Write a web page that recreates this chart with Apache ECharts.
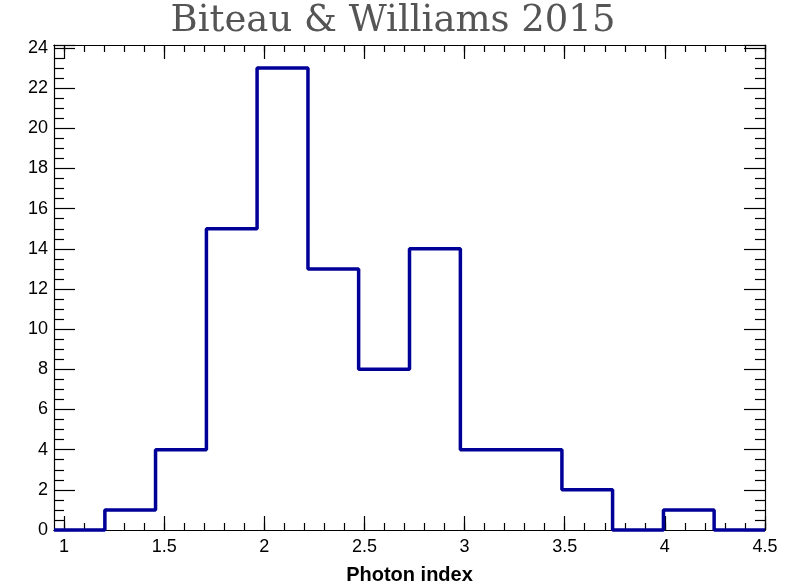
<!DOCTYPE html>
<html>
<head>
<meta charset="utf-8">
<script src="https://cdn.jsdelivr.net/npm/echarts@6/dist/echarts.min.js"></script>
<style>
  html, body { margin: 0; padding: 0; background: #fff; }
  #chart { width: 786px; height: 583px; }
</style>
</head>
<body>
<div id="chart"></div>
<script>
// Photon index histogram: 14 bins from 0.95 to 4.5
const binEdges = [0.95, 1.204, 1.457, 1.711, 1.964, 2.218, 2.471, 2.725, 2.979, 3.232, 3.486, 3.739, 3.993, 4.246, 4.5];
const counts = [0, 1, 4, 15, 23, 13, 8, 14, 4, 4, 2, 0, 1, 0];
const xMajorTicks = [1, 1.5, 2, 2.5, 3, 3.5, 4, 4.5];
const yTickInterval = 2;
const titleText = 'Biteau & Williams 2015';
const xTitle = 'Photon index';

// minor x ticks every 0.1 between the axis limits
const xMinorTicks = [];
for (let i = 10; i <= 45; i++) xMinorTicks.push(+(i / 10).toFixed(1));

// step outline: each left edge carries its bin count, closed at the last edge
const stepData = counts.map((c, i) => [binEdges[i], c]);
stepData.push([binEdges[binEdges.length - 1], counts[counts.length - 1]]);

const xMin = binEdges[0], xMax = binEdges[binEdges.length - 1];
const yMax = 24.15;
const fontSans = '"Liberation Sans", Arial, sans-serif';
const frame = { show: true, onZero: false, lineStyle: { color: '#000', width: 1.2 } };

function xAxisDef(pos, major, labels) {
  return {
    type: 'value', position: pos, min: xMin, max: xMax,
    axisLine: frame,
    splitLine: { show: false },
    axisTick: {
      show: true, inside: true, length: major ? 14 : 7,
      customValues: major ? xMajorTicks : xMinorTicks,
      lineStyle: { color: '#000', width: 1.2 }
    },
    axisLabel: labels ? {
      show: true, customValues: xMajorTicks, margin: 8,
      color: '#000', fontSize: 18, fontFamily: fontSans,
      formatter: v => String(v)
    } : { show: false },
    name: labels ? xTitle : '',
    nameLocation: 'middle', nameGap: 35,
    nameTextStyle: { color: '#000', fontSize: 20, fontWeight: 'bold', fontFamily: fontSans }
  };
}

function yAxisDef(pos, labels) {
  return {
    type: 'value', position: pos, min: 0, max: yMax, interval: yTickInterval,
    axisLine: frame,
    splitLine: { show: false },
    axisTick: { show: true, inside: true, length: 21, lineStyle: { color: '#000', width: 1.2 } },
    minorTick: { show: true, splitNumber: 4, length: 10, lineStyle: { color: '#000', width: 1.2 } },
    minorSplitLine: { show: false },
    axisLabel: labels ? {
      show: true, margin: 6, color: '#000', fontSize: 18, fontFamily: fontSans
    } : { show: false }
  };
}

const chart = echarts.init(document.getElementById('chart'), null, { renderer: 'canvas' });
chart.setOption({
  backgroundColor: '#fff',
  animation: false,
  title: {
    text: titleText, left: 'center', top: -2,
    textStyle: { color: '#555', fontSize: 37, fontWeight: 'normal', fontFamily: '"DejaVu Serif", serif' }
  },
  grid: { left: 54, right: 21, top: 45, bottom: 53, containLabel: false, outerBoundsMode: 'none' },
  xAxis: [
    xAxisDef('bottom', true, true),
    xAxisDef('bottom', false, false),
    xAxisDef('top', true, false),
    xAxisDef('top', false, false)
  ],
  yAxis: [
    yAxisDef('left', true),
    yAxisDef('right', false)
  ],
  series: [{
    type: 'line',
    xAxisIndex: 0, yAxisIndex: 0,
    data: stepData,
    step: 'end',
    symbol: 'none',
    clip: false,
    lineStyle: { color: '#000099', width: 3.5 }
  }]
});
</script>
</body>
</html>
